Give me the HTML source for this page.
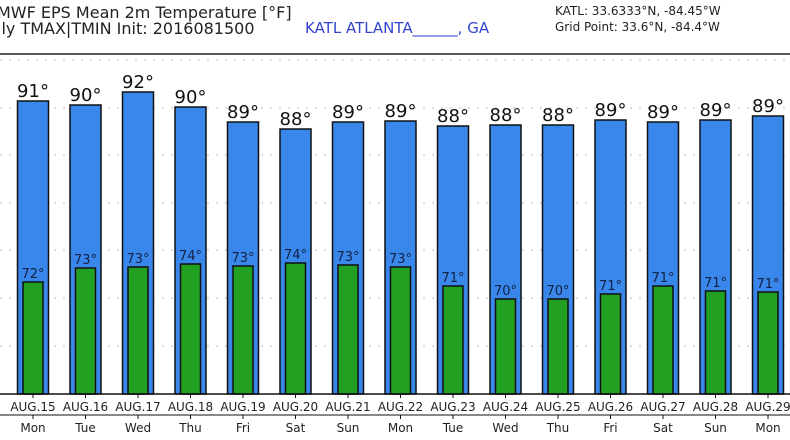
<!DOCTYPE html>
<html><head><meta charset="utf-8"><style>
html,body{margin:0;padding:0;background:#fff;width:790px;height:440px;overflow:hidden}
svg{display:block}
text{font-family:"DejaVu Sans","Liberation Sans",sans-serif}
</style></head><body>
<svg width="790" height="440" viewBox="0 0 790 440" xmlns="http://www.w3.org/2000/svg">
<text x="-3" y="18" font-size="16" fill="#222">MWF EPS Mean 2m Temperature [°F]</text>
<text x="-3" y="34" font-size="16" fill="#222">ily TMAX|TMIN Init: 2016081500</text>
<text x="305" y="33" font-size="15" fill="#3344cc">KATL ATLANTA______, GA</text>
<text x="555" y="15" font-size="12" fill="#222">KATL: 33.6333°N, -84.45°W</text>
<text x="555" y="31" font-size="12" fill="#222">Grid Point: 33.6°N, -84.4°W</text>
<line x1="0" y1="54" x2="790" y2="54" stroke="#222" stroke-width="1.5"/>
<g stroke="#bbb" stroke-width="1" stroke-dasharray="2,7">
<line x1="0" y1="60" x2="790" y2="60"/><line x1="0" y1="108" x2="790" y2="108"/>
<line x1="0" y1="155" x2="790" y2="155"/><line x1="0" y1="203" x2="790" y2="203"/>
<line x1="0" y1="250" x2="790" y2="250"/><line x1="0" y1="298" x2="790" y2="298"/>
<line x1="0" y1="346" x2="790" y2="346"/>
</g>
<g id="bars"></g>
<line x1="0" y1="394" x2="790" y2="394" stroke="#111" stroke-width="1.5"/>
<line x1="0" y1="415" x2="790" y2="415" stroke="#111" stroke-width="1"/>
</svg>
<script>
var hi=[91,90,92,90,89,88,89,89,88,88,88,89,89,89,89];
var ht=[101,105,92,107,122,129,122,121,126,125,125,120,122,120,116];
var lo=[72,73,73,74,73,74,73,73,71,70,70,71,71,71,71];
var lt=[282,268,267,264,266,263,265,267,286,299,299,294,286,291,292];
var d=["Mon","Tue","Wed","Thu","Fri","Sat","Sun"];
var g=document.getElementById("bars"),s="";
for(var i=0;i<15;i++){var c=33+52.5*i;
s+='<rect x="'+(c-15.5)+'" y="'+ht[i]+'" width="31" height="'+(394-ht[i])+'" fill="#3a87ec" stroke="#111" stroke-width="1.5"/>';
s+='<rect x="'+(c-10)+'" y="'+lt[i]+'" width="20" height="'+(394-lt[i])+'" fill="#22a022" stroke="#111" stroke-width="1.5"/>';
s+='<text x="'+c+'" y="'+(ht[i]-4)+'" font-size="18" text-anchor="middle" fill="#111">'+hi[i]+'°</text>';
s+='<text x="'+c+'" y="'+(lt[i]-4)+'" font-size="13" text-anchor="middle" fill="#112244">'+lo[i]+'°</text>';
s+='<line x1="'+c+'" y1="394" x2="'+c+'" y2="398" stroke="#111"/><line x1="'+c+'" y1="415" x2="'+c+'" y2="419" stroke="#111"/>';
s+='<text x="'+c+'" y="411" font-size="12" text-anchor="middle" fill="#222">AUG.'+(15+i)+'</text>';
s+='<text x="'+c+'" y="432" font-size="12" text-anchor="middle" fill="#222">'+d[i%7]+'</text>';}
g.innerHTML=s;
</script>
</body></html>
